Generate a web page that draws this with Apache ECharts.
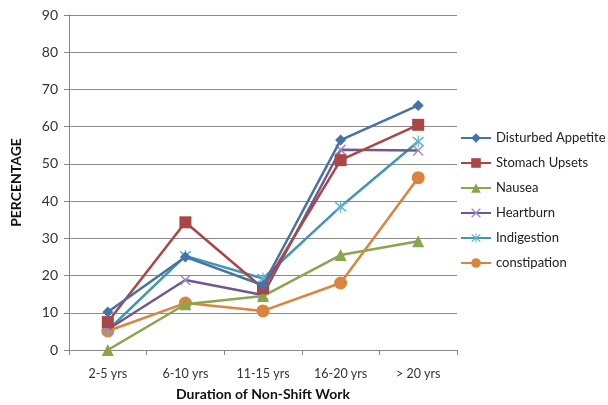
<!DOCTYPE html>
<html><head><meta charset="utf-8">
<script src="https://cdn.jsdelivr.net/npm/echarts@6/dist/echarts.min.js"></script>
<style>html,body{margin:0;padding:0;background:#fff}#c{width:608px;height:405px}</style>
</head><body><div id="c"></div>
<script>
const categories = ['2-5 yrs','6-10 yrs','11-15 yrs','16-20 yrs','> 20 yrs'];
const yTicks = {min:0, max:90, interval:10};
const disturbedAppetite = [10.2, 25.0, 17.4, 56.4, 65.7];
const stomachUpsets = [7.5, 34.3, 16.6, 51.0, 60.5];
const nausea = [0, 12.3, 14.5, 25.5, 29.2];
const heartburn = [5.5, 18.8, 14.8, 53.8, 53.6];
const indigestion = [5.3, 25.3, 19.2, 38.5, 56.0];
const constipation = [5.1, 12.6, 10.5, 18.0, 46.3];

const names = ['Disturbed Appetite','Stomach Upsets','Nausea','Heartburn','Indigestion','constipation'];
const values = [disturbedAppetite, stomachUpsets, nausea, heartburn, indigestion, constipation];
const colors = ['#4572A7','#AA4643','#89A54E','#71588F','#4198AF','#DB843D'];
const markerColors = ['#4572A7','#AA4643','#89A54E','#9d8bbf','#5fb6cf','#DB843D'];
const xPath = 'path://M0,1 L1,0 L5,4 L9,0 L10,1 L6,5 L10,9 L9,10 L5,6 L1,10 L0,9 L4,5 Z';
const starPath = 'path://M0,1 L1,0 L5,4 L9,0 L10,1 L6,5 L10,9 L9,10 L5,6 L1,10 L0,9 L4,5 Z M4.5,-1 L5.5,-1 L5.5,11 L4.5,11 Z';
const symbols = ['diamond','rect','triangle',xPath,starPath,'circle'];
const sizes = [11,12,12,11,12,13];

const font = 'Lato, "Open Sans", sans-serif';
const chart = echarts.init(document.getElementById('c'), null, {renderer:'canvas'});
chart.setOption({
  animation:false,
  textStyle:{fontFamily:font},
  grid:{left:69, right:151, top:15, bottom:55, outerBoundsMode:'none', containLabel:false},
  legend:{
    orient:'vertical', left:455, top:125, itemWidth:30, itemHeight:12, itemGap:9,
    textStyle:{fontFamily:font, fontSize:13, lineHeight:16, color:'#222'},
    data:names
  },
  xAxis:{
    type:'category', data:categories, boundaryGap:true,
    name:'Duration of Non-Shift Work', nameLocation:'middle', nameGap:37,
    nameTextStyle:{fontFamily:font, fontSize:14, fontWeight:'bold', color:'#111'},
    axisLine:{lineStyle:{color:'#868686'}},
    axisTick:{show:true, length:5, interval:0, lineStyle:{color:'#868686'}},
    axisLabel:{fontSize:12.5, color:'#333', margin:17, interval:0}
  },
  yAxis:{
    type:'value', min:yTicks.min, max:yTicks.max, interval:yTicks.interval,
    name:'PERCENTAGE', nameLocation:'middle', nameGap:46,
    nameTextStyle:{fontFamily:font, fontSize:14, fontWeight:'bold', color:'#111'},
    axisLine:{show:true, lineStyle:{color:'#868686'}},
    axisTick:{show:true, length:5, lineStyle:{color:'#868686'}},
    axisLabel:{fontSize:14, color:'#333', margin:11},
    splitLine:{lineStyle:{color:'#8c8c8c', width:1}}
  },
  series: names.map((n,i)=>({
    name:n, type:'line', data:values[i],
    symbol:symbols[i], symbolSize:sizes[i], showAllSymbol:true,
    lineStyle:{color:colors[i], width:2.5},
    itemStyle:{color:markerColors[i]},
    z: 10 - i
  }))
});
</script></body></html>
